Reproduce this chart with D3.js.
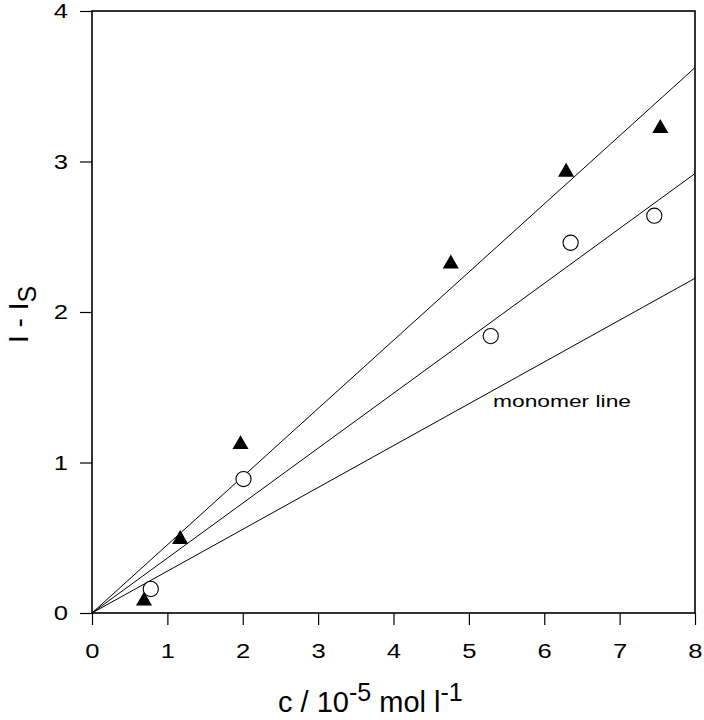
<!DOCTYPE html>
<html>
<head>
<meta charset="utf-8">
<script src="https://cdn.jsdelivr.net/npm/d3@7"></script>
<style>
  body { margin: 0; background: #fff; }
  text { font-family: "Liberation Sans", Arial, sans-serif; fill: #000; }
</style>
</head>
<body>
<script>
// data
var xTicks = [0, 1, 2, 3, 4, 5, 6, 7, 8];
var yTicks = [0, 1, 2, 3, 4];

var triX = [0.69, 1.17, 1.97, 4.76, 6.29, 7.54];
var triY = [0.08, 0.49, 1.12, 2.32, 2.93, 3.22];

var circX = [0.78, 2.01, 5.29, 6.35, 7.46];
var circY = [0.16, 0.89, 1.84, 2.46, 2.64];

// slopes of the three straight lines through the origin
var lineSlopes = [0.453, 0.365, 0.278];

var width = 704, height = 720;
var margin = {left: 92, right: 9, top: 11, bottom: 107};
var stretch = 1.22; // tick labels look a bit wide in the scan

var svg = d3.select('body').append('svg')
    .attr('width', width)
    .attr('height', height);

var x = d3.scaleLinear().domain([0, 8]).range([margin.left, width - margin.right]);
var y = d3.scaleLinear().domain([0, 4]).range([height - margin.bottom, margin.top]);

// frame
svg.append('rect')
    .attr('x', x(0)).attr('y', y(4))
    .attr('width', x(8) - x(0)).attr('height', y(0) - y(4))
    .attr('fill', 'none').attr('stroke', '#000').attr('stroke-width', 1.6);

// axes
var xAxis = svg.append('g')
    .attr('transform', 'translate(0,' + y(0) + ')')
    .call(d3.axisBottom(x).tickValues(xTicks).tickSize(12).tickPadding(18).tickFormat(d3.format('d')));
var yAxis = svg.append('g')
    .attr('transform', 'translate(' + x(0) + ',0)')
    .call(d3.axisLeft(y).tickValues(yTicks).tickSize(12).tickPadding(12).tickFormat(d3.format('d')));

[xAxis, yAxis].forEach(function(g) {
    g.select('.domain').remove();
    g.selectAll('line').attr('stroke', '#000').attr('stroke-width', 1.2);
    g.selectAll('text').attr('font-size', '21px')
        .attr('font-family', '"Liberation Sans", Arial, sans-serif').attr('fill', '#000')
        .attr('transform', 'scale(' + stretch + ',1)');
});
yAxis.selectAll('text').attr('x', -24 / stretch);

// fit lines
svg.selectAll('line.fit')
    .data(lineSlopes)
    .enter().append('line')
    .attr('class', 'fit')
    .attr('x1', x(0)).attr('y1', y(0))
    .attr('x2', x(8)).attr('y2', function(d) { return y(d * 8); })
    .attr('stroke', '#000').attr('stroke-width', 1);

// circles
svg.selectAll('circle.pt')
    .data(circX)
    .enter().append('circle')
    .attr('class', 'pt')
    .attr('cx', function(d) { return x(d); })
    .attr('cy', function(d, i) { return y(circY[i]); })
    .attr('r', 7.6)
    .attr('fill', '#fff').attr('stroke', '#000').attr('stroke-width', 1.1);

// triangles
var tri = d3.symbol().type(d3.symbolTriangle).size(112);
svg.selectAll('path.tri')
    .data(triX)
    .enter().append('path')
    .attr('class', 'tri')
    .attr('d', tri)
    .attr('transform', function(d, i) { return 'translate(' + x(d) + ',' + y(triY[i]) + ')'; })
    .attr('fill', '#000');

// label
svg.append('text')
    .attr('x', 493).attr('y', 407)
    .attr('font-size', '17px')
    .attr('textLength', 138)
    .attr('lengthAdjust', 'spacingAndGlyphs')
    .text('monomer line');

// x title
var xt = svg.append('text')
    .attr('x', 278).attr('y', 712)
    .attr('font-size', '29px');
xt.append('tspan').text('c / 10');
xt.append('tspan').attr('dy', -11).attr('font-size', '25px').text('-5');
xt.append('tspan').attr('dy', 11).text(' mol l');
xt.append('tspan').attr('dy', -11).attr('font-size', '25px').text('-1');

// y title
var yt = svg.append('text')
    .attr('transform', 'translate(28,343) rotate(-90)')
    .attr('font-size', '28px');
yt.append('tspan').text('I - I');
yt.append('tspan').attr('dy', 8).attr('font-size', '25px').text('S');
</script>
</body>
</html>
